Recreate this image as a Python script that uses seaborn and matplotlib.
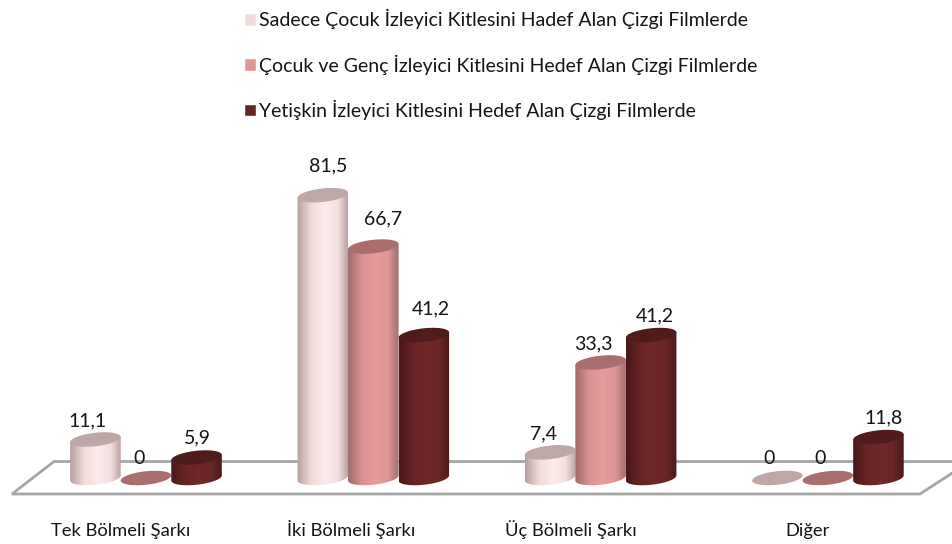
import numpy as np
import pandas as pd
import matplotlib
matplotlib.use("Agg")
import matplotlib.pyplot as plt
from matplotlib.patches import Polygon
from matplotlib.transforms import ScaledTranslation
import seaborn as sns

categories = ["Tek Bölmeli Şarkı", "İki Bölmeli Şarkı", "Üç Bölmeli Şarkı", "Diğer"]
series_names = [
    "Sadece Çocuk İzleyici Kitlesini Hadef Alan Çizgi Filmlerde",
    "Çocuk ve Genç İzleyici Kitlesini Hedef Alan Çizgi Filmlerde",
    "Yetişkin İzleyici Kitlesini Hedef Alan Çizgi Filmlerde",
]
child_values = [11.1, 81.5, 7.4, 0]
teen_values = [0, 66.7, 33.3, 0]
adult_values = [5.9, 41.2, 41.2, 11.8]

legend_colors = ["#F2DCDB", "#DD9796", "#632523"]
center_colors = ["#FFEBEB", "#E89C9C", "#6F2727"]
edge_colors = ["#B8A0A0", "#A06C6C", "#4A1818"]
top_colors = ["#BFA7A8", "#AA6E6E", "#4F1B1B"]
floor_color = "#A6A6A6"
text_color = "#141414"

# label offsets in pixels (dx, dy), per series then category
label_dx = [[-8, 5, -7, -8], [-7, 10, -7, -8], [1, 7, 4, 5]]
label_dy = [[19, 29, 18, 20], [20, 28, 19, 20], [20, 26, 19, 19]]
tick_dx = [-25, -22, -30, -20]

W, H = 953, 544
PX = 72 / 100
plt.rcdefaults()
sns.set_theme(style="white")
plt.rcParams["font.family"] = ["Lato", "DejaVu Sans"]
FS = 14.0
TICK_FS = 13.2

df = pd.DataFrame({
    "category": np.tile(categories, 3),
    "series": np.repeat(series_names, 4),
    "value": child_values + teen_values + adult_values,
})

fig = plt.figure(figsize=(W / 100, H / 100), dpi=100, facecolor="white")
y_px_bottom = 510
ax = fig.add_axes([0, (H - y_px_bottom) / H, 1, y_px_bottom / H])
sns.barplot(data=df, x="category", y="value", hue="series", order=categories,
            hue_order=series_names, palette=legend_colors, width=0.667,
            gap=0, dodge=True, saturation=1, errorbar=None, ax=ax)

unit = 227.3
xmin = -146 / unit
xmax = (W - 146) / unit
px_y = 3.47
ymin = -(y_px_bottom - 478) / px_y
ymax = 478 / px_y


def X(px):
    return xmin + px / unit


def Y(py):
    return (478 - py) / px_y


# floor
floor = Polygon([(X(12), Y(494)), (X(54), Y(461.5)), (X(970), Y(461.5)), (X(920), Y(494))],
                closed=True, facecolor="white", edgecolor=floor_color, linewidth=2.0, zorder=0.5)
ax.add_patch(floor)

tilt = 0.75
semi = 1.95
T = np.linspace(0, 2 * np.pi, 73)
zo = 2
for s, cont in enumerate(ax.containers):
    for c, bar in enumerate(cont.patches):
        bar.set_visible(False)
        a = bar.get_width() / 2
        cx = bar.get_x() + a
        h = bar.get_height()
        ell_x = cx + a * np.cos(T)
        if h > 0:
            tb = np.linspace(np.pi, 2 * np.pi, 37)
            low = np.column_stack([cx + a * np.cos(tb), semi * np.sin(tb) + tilt * np.cos(tb)])
            body = np.vstack([[cx - a, h - tilt], low, [cx + a, h + tilt]])
            clip = Polygon(body, closed=True, facecolor="none", edgecolor="none",
                           transform=ax.transData)
            ax.add_patch(clip)
            e = np.array(matplotlib.colors.to_rgb(edge_colors[s]))
            m = np.array(matplotlib.colors.to_rgb(center_colors[s]))
            u = np.linspace(0, 1, 60)
            w = np.interp(u, [0, 0.28, 0.55, 0.8, 1], [0, 0.8, 1, 0.85, 0.05])
            grad = (e[None, :] * (1 - w[:, None]) + m[None, :] * w[:, None])[None, :, :]
            im = ax.imshow(grad, extent=(cx - a, cx + a, -semi - tilt, h + tilt),
                           aspect="auto", origin="lower", zorder=zo, interpolation="bilinear")
            im.set_clip_path(clip)
        ell_y = h + semi * np.sin(T) + tilt * np.cos(T)
        ax.add_patch(Polygon(np.column_stack([ell_x, ell_y]), closed=True,
                             facecolor=top_colors[s], edgecolor="none", zorder=zo + 0.1))
        ax.annotate(f"{h:g}".replace(".", ","), xy=(cx, h),
                    xytext=(label_dx[s][c] * PX, label_dy[s][c] * PX),
                    textcoords="offset points", ha="center", va="center",
                    fontsize=FS, color=text_color, zorder=10)
        zo += 1

ax.set_xlim(xmin, xmax)
ax.set_ylim(ymin, ymax)
ax.set_xlabel("")
ax.set_ylabel("")
ax.set_yticks([])
sns.despine(ax=ax, left=True, bottom=True)
ax.set_xticks(range(4))
ax.set_xticklabels(categories, fontsize=TICK_FS, color=text_color)
ax.tick_params(axis="x", length=0, pad=19)
for lab, dx in zip(ax.get_xticklabels(), tick_dx):
    lab.set_va("baseline")
    lab.set_transform(lab.get_transform() + ScaledTranslation(dx / 100, 0, fig.dpi_scale_trans))

sns.move_legend(ax, loc="upper left", bbox_to_anchor=(244 / W, 1 - 9 / y_px_bottom), title=None,
                frameon=False, fontsize=FS, handlelength=0.62, handleheight=0.62,
                handletextpad=0.16, labelspacing=1.3, borderpad=0, borderaxespad=0)
for t in ax.get_legend().get_texts():
    t.set_color(text_color)

fig.savefig("out.png", dpi=100, facecolor="white")
